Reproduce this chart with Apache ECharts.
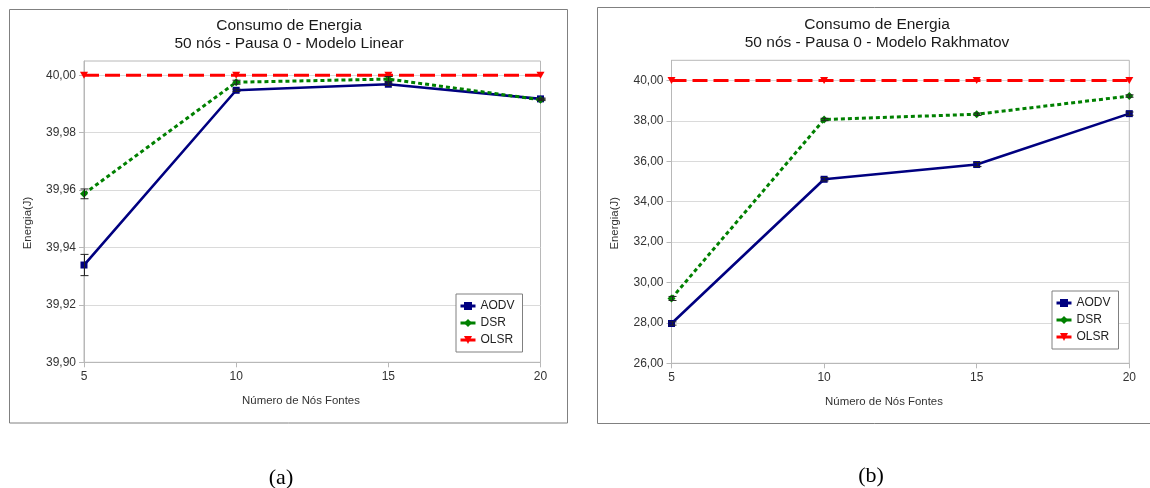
<!DOCTYPE html>
<html><head><meta charset="utf-8">
<script src="https://cdn.jsdelivr.net/npm/echarts@6/dist/echarts.min.js"></script>
<style>html,body{margin:0;padding:0;background:#fff}#c{width:1150px;height:488px}</style>
</head><body><div id="c"></div>
<script>
// ---- data ----
const nodeCounts = [5, 10, 15, 20];
const seriesNames = ['AODV', 'DSR', 'OLSR'];
// (a) Modelo Linear
const linAODV = [39.9339, 39.9948, 39.9969, 39.9918];
const linDSR = [39.9587, 39.9976, 39.9987, 39.9915];
const linOLSR = [40.00, 40.00, 40.00, 40.00];
const linAODVErr = [0.0037, 0.0004, 0.0004, 0.0003];
const linDSRErr = [0.0017, 0.0007, 0.0009, 0.0003];
// (b) Modelo Rakhmatov
const rakAODV = [27.97, 35.11, 35.84, 38.36];
const rakDSR = [29.21, 38.07, 38.33, 39.23];
const rakOLSR = [40.00, 40.00, 40.00, 40.00];
const rakAODVErr = [0.08, 0.08, 0.1, 0.08];
const rakDSRErr = [0.1, 0.06, 0.06, 0.06];
// tick labels
const xTicks = [5, 10, 15, 20];
const linYTicks = [39.90, 39.92, 39.94, 39.96, 39.98, 40.00];
const rakYTicks = [26, 28, 30, 32, 34, 36, 38, 40];
// texts
const titleA = 'Consumo de Energia\n50 nós - Pausa 0 - Modelo Linear';
const titleB = 'Consumo de Energia\n50 nós - Pausa 0 - Modelo Rakhmatov';
const xName = 'Número de Nós Fontes';
const yName = 'Energia(J)';

const FONT = '"Liberation Sans", Arial, sans-serif';
const SERIF = '"Liberation Serif", "Times New Roman", serif';
const colors = {AODV: '#000080', DSR: '#008000', OLSR: '#ff0000'};
const invTri = 'path://M0,0 L10,0 L5,9 Z';

function fmtTick(v, ticks) {
  for (const t of ticks) if (Math.abs(v - t) < 1e-7) return t.toFixed(2).replace('.', ',');
  return '';
}
function pairs(arr) { return nodeCounts.map((x, i) => [x, arr[i]]); }
function triples(arr, err) { return nodeCounts.map((x, i) => [x, arr[i], err[i]]); }

function errRender(params, api) {
  const x = api.value(0), y = api.value(1), e = api.value(2);
  const top = api.coord([x, y + e]);
  const bot = api.coord([x, y - e]);
  const hw = 4;
  const cx = Math.round(top[0]) + 0.5;
  const style = {stroke: '#222', lineWidth: 1};
  return {type: 'group', children: [
    {type: 'line', shape: {x1: cx, y1: top[1], x2: cx, y2: bot[1]}, style},
    {type: 'line', shape: {x1: cx - hw, y1: top[1], x2: cx + hw, y2: top[1]}, style},
    {type: 'line', shape: {x1: cx - hw, y1: bot[1], x2: cx + hw, y2: bot[1]}, style}
  ]};
}

function lineSeries(gi, name, arr) {
  const base = {
    name, type: 'line', xAxisIndex: gi, yAxisIndex: gi, data: pairs(arr),
    color: colors[name], silent: true, animation: false
  };
  if (name === 'AODV') return Object.assign(base, {symbol: 'rect', symbolSize: 7, lineStyle: {width: 2.6, color: colors[name]}, itemStyle: {color: colors[name]}, z: 3});
  if (name === 'DSR') return Object.assign(base, {symbol: 'diamond', symbolSize: 8, lineStyle: {width: 3, type: [4, 3], color: colors[name]}, itemStyle: {color: colors[name]}, z: 4});
  return Object.assign(base, {symbol: invTri, symbolSize: [8, 7], lineStyle: {width: 3, type: [15, 6], color: colors[name]}, itemStyle: {color: colors[name]}, z: 5});
}
function errSeries(gi, arr, err) {
  return {type: 'custom', xAxisIndex: gi, yAxisIndex: gi, data: triples(arr, err), renderItem: errRender, silent: true, animation: false, z: 6};
}

const axisGray = '#b8b8b8';
function xAxis(gi) {
  return {
    type: 'value', gridIndex: gi, min: 5, max: 20, interval: 5,
    axisLine: {show: true, lineStyle: {color: axisGray}},
    axisTick: {show: true, length: 5, lineStyle: {color: axisGray}},
    splitLine: {show: false},
    axisLabel: {color: '#333', fontSize: 12, fontFamily: FONT, margin: 8,
      formatter: v => (xTicks.indexOf(v) >= 0 ? String(v) : '')}
  };
}
function yAxis(gi, min, max, interval, ticks) {
  return {
    type: 'value', gridIndex: gi, min, max, interval,
    axisLine: {show: true, lineStyle: {color: axisGray}},
    axisTick: {show: true, length: 5, lineStyle: {color: axisGray}, customValues: ticks},
    splitLine: {show: true, lineStyle: {color: '#dadada', width: 1}},
    axisLabel: {color: '#333', fontSize: 12, fontFamily: FONT, margin: 8, customValues: ticks,
      formatter: v => fmtTick(v, ticks)}
  };
}
function legend(left, top) {
  return {
    data: seriesNames, orient: 'vertical', left, top,
    padding: [6, 8, 6, 3], itemGap: 5, itemWidth: 15, itemHeight: 10,
    borderColor: '#808080', borderWidth: 1, backgroundColor: '#fff', borderRadius: 0,
    lineStyle: {type: 'solid', width: 3}, selectedMode: false,
    textStyle: {color: '#222', fontSize: 12, fontFamily: FONT, lineHeight: 12}
  };
}

const chart = echarts.init(document.getElementById('c'), null, {renderer: 'canvas'});
chart.setOption({
  backgroundColor: '#fff',
  animation: false,
  grid: [
    {left: 84, top: 61, width: 456.5, height: 301.3, show: true, borderColor: axisGray, borderWidth: 1, backgroundColor: 'transparent', containLabel: false, outerBoundsMode: 'none'},
    {left: 671.5, top: 60.3, width: 457.8, height: 303, show: true, borderColor: axisGray, borderWidth: 1, backgroundColor: 'transparent', containLabel: false, outerBoundsMode: 'none'}
  ],
  xAxis: [xAxis(0), xAxis(1)],
  yAxis: [yAxis(0, 39.90, 40.005, 0.02, linYTicks), yAxis(1, 26, 41, 2, rakYTicks)],
  legend: [legend(456, 294), legend(1052, 291)],
  series: [
    lineSeries(0, 'AODV', linAODV), lineSeries(0, 'DSR', linDSR), lineSeries(0, 'OLSR', linOLSR),
    errSeries(0, linAODV, linAODVErr), errSeries(0, linDSR, linDSRErr),
    lineSeries(1, 'AODV', rakAODV), lineSeries(1, 'DSR', rakDSR), lineSeries(1, 'OLSR', rakOLSR),
    errSeries(1, rakAODV, rakAODVErr), errSeries(1, rakDSR, rakDSRErr)
  ],
  graphic: [
    {type: 'rect', silent: true, z: -10, shape: {x: 9.5, y: 9.5, width: 558, height: 413.5}, style: {fill: 'none', stroke: '#808080', lineWidth: 1}},
    {type: 'rect', silent: true, z: -10, shape: {x: 597.5, y: 7.5, width: 600, height: 416}, style: {fill: 'none', stroke: '#808080', lineWidth: 1}},
    {type: 'text', silent: true, x: 289, y: 17, style: {text: titleA, fontSize: 15.5, fontFamily: FONT, fill: '#1a1a1a', align: 'center', verticalAlign: 'top', lineHeight: 18}},
    {type: 'text', silent: true, x: 877, y: 16, style: {text: titleB, fontSize: 15.5, fontFamily: FONT, fill: '#1a1a1a', align: 'center', verticalAlign: 'top', lineHeight: 18}},
    {type: 'text', silent: true, x: 301, y: 401, style: {text: xName, fontSize: 11.4, fontFamily: FONT, fill: '#333', align: 'center', verticalAlign: 'middle'}},
    {type: 'text', silent: true, x: 884, y: 401.5, style: {text: xName, fontSize: 11.4, fontFamily: FONT, fill: '#333', align: 'center', verticalAlign: 'middle'}},
    {type: 'text', silent: true, x: 27.5, y: 223, rotation: Math.PI / 2, style: {text: yName, fontSize: 11.4, fontFamily: FONT, fill: '#333', align: 'center', verticalAlign: 'middle'}},
    {type: 'text', silent: true, x: 615, y: 223.3, rotation: Math.PI / 2, style: {text: yName, fontSize: 11.4, fontFamily: FONT, fill: '#333', align: 'center', verticalAlign: 'middle'}},
    {type: 'text', silent: true, x: 281, y: 478, style: {text: '(a)', fontSize: 22, fontFamily: SERIF, fill: '#000', align: 'center', verticalAlign: 'middle'}},
    {type: 'text', silent: true, x: 871, y: 476, style: {text: '(b)', fontSize: 22, fontFamily: SERIF, fill: '#000', align: 'center', verticalAlign: 'middle'}}
  ]
});
</script>
</body></html>
